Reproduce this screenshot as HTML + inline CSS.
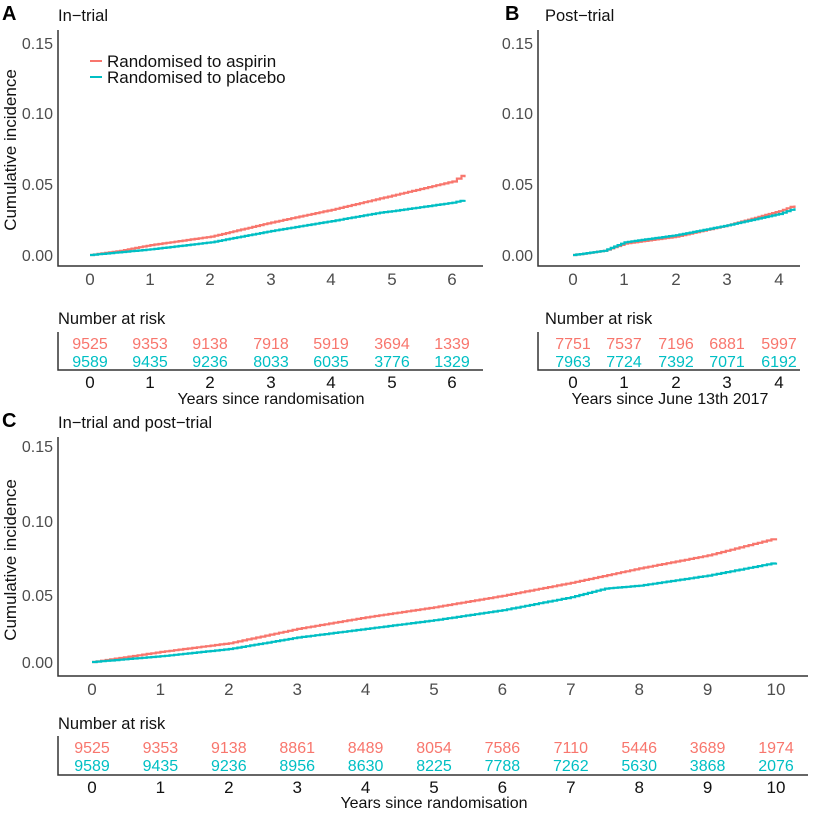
<!DOCTYPE html>
<html><head><meta charset="utf-8"><style>
body{margin:0;background:#fff;}
svg{display:block;font-family:"Liberation Sans",sans-serif;}
.tk{font-size:17px;fill:#4d4d4d;text-anchor:middle}
.yl{font-size:16px;fill:#4d4d4d;text-anchor:end}
.ax{stroke:#333;stroke-width:1.5;fill:none}
.r{fill:#F8766D;font-size:16px;text-anchor:middle}
.b{fill:#00BFC4;font-size:16px;text-anchor:middle}
.tt{font-size:16.5px;fill:#111}
.lg{font-size:17px;fill:#111}
.bl{font-size:16px;fill:#111;text-anchor:middle}
</style></head><body>
<svg id="s" width="813" height="819" viewBox="0 0 813 819">
<!-- Panel A -->
<text x="2" y="20" font-size="20" font-weight="bold">A</text>
<text x="58" y="21" class="tt">In−trial</text>
<path class="ax" d="M58,30V266H483"/>
<g class="yl"><text x="53" y="49">0.15</text><text x="53" y="119">0.10</text><text x="53" y="190">0.05</text><text x="53" y="261">0.00</text></g>
<text transform="translate(16,150) rotate(-90)" font-size="17" fill="#111" text-anchor="middle">Cumulative incidence</text>
<g class="tk"><text x="90" y="285">0</text><text x="150" y="285">1</text><text x="210" y="285">2</text><text x="271" y="285">3</text><text x="331" y="285">4</text><text x="392" y="285">5</text><text x="452" y="285">6</text></g>
<line x1="90" y1="61" x2="102" y2="61" stroke="#F8766D" stroke-width="2"/><line x1="90" y1="77" x2="102" y2="77" stroke="#00BFC4" stroke-width="2"/>
<text x="107" y="67" class="lg">Randomised to aspirin</text><text x="107" y="83" class="lg">Randomised to placebo</text>
<text x="58" y="324" class="tt">Number at risk</text>
<path class="ax" d="M58,332V370H483"/>
<g class="r"><text x="90" y="349">9525</text><text x="150" y="349">9353</text><text x="210" y="349">9138</text><text x="271" y="349">7918</text><text x="331" y="349">5919</text><text x="392" y="349">3694</text><text x="452" y="349">1339</text></g>
<g class="b"><text x="90" y="367">9589</text><text x="150" y="367">9435</text><text x="210" y="367">9236</text><text x="271" y="367">8033</text><text x="331" y="367">6035</text><text x="392" y="367">3776</text><text x="452" y="367">1329</text></g>
<g class="tk" style="fill:#111"><text x="90" y="388">0</text><text x="150" y="388">1</text><text x="210" y="388">2</text><text x="271" y="388">3</text><text x="331" y="388">4</text><text x="392" y="388">5</text><text x="452" y="388">6</text></g>
<text x="271" y="404" class="bl">Years since randomisation</text>
<!-- Panel B -->
<text x="505" y="20" font-size="20" font-weight="bold">B</text>
<text x="545" y="21" class="tt">Post−trial</text>
<path class="ax" d="M538,30V266H800"/>
<g class="yl"><text x="533" y="49">0.15</text><text x="533" y="119">0.10</text><text x="533" y="190">0.05</text><text x="533" y="261">0.00</text></g>
<g class="tk"><text x="573" y="285">0</text><text x="624" y="285">1</text><text x="676" y="285">2</text><text x="727" y="285">3</text><text x="779" y="285">4</text></g>
<text x="545" y="324" class="tt">Number at risk</text>
<path class="ax" d="M538,332V370H800"/>
<g class="r"><text x="573" y="349">7751</text><text x="624" y="349">7537</text><text x="676" y="349">7196</text><text x="727" y="349">6881</text><text x="779" y="349">5997</text></g>
<g class="b"><text x="573" y="367">7963</text><text x="624" y="367">7724</text><text x="676" y="367">7392</text><text x="727" y="367">7071</text><text x="779" y="367">6192</text></g>
<g class="tk" style="fill:#111"><text x="573" y="388">0</text><text x="624" y="388">1</text><text x="676" y="388">2</text><text x="727" y="388">3</text><text x="779" y="388">4</text></g>
<text x="670" y="404" class="bl">Years since June 13th 2017</text>
<!-- Panel C -->
<text x="2" y="427" font-size="20" font-weight="bold">C</text>
<text x="58" y="428" class="tt">In−trial and post−trial</text>
<path class="ax" d="M58,437V676H808"/>
<g class="yl"><text x="53" y="452">0.15</text><text x="53" y="527">0.10</text><text x="53" y="601">0.05</text><text x="53" y="668">0.00</text></g>
<text transform="translate(16,560) rotate(-90)" font-size="17" fill="#111" text-anchor="middle">Cumulative incidence</text>
<g class="tk" id="ct"></g>
<text x="58" y="729" class="tt">Number at risk</text>
<path class="ax" d="M58,736V775H808"/>
<g id="cr" class="r"></g><g id="cb" class="b"></g><g id="cb2" class="tk" style="fill:#111"></g>
<text x="434" y="808" class="bl">Years since randomisation</text>
<g id="curves" fill="none" stroke-width="2.2"></g>
</svg>
<script>
var ns="http://www.w3.org/2000/svg";
function el(p,t,a,txt){var e=document.createElementNS(ns,t);for(var k in a)e.setAttribute(k,a[k]);if(txt!=null)e.textContent=txt;document.getElementById(p).appendChild(e);}
var ar=[9525,9353,9138,8861,8489,8054,7586,7110,5446,3689,1974],pl=[9589,9435,9236,8956,8630,8225,7788,7262,5630,3868,2076];
for(var i=0;i<=10;i++){var x=92+i*68.4;el("ct","text",{x:x,y:695},i);el("cb2","text",{x:x,y:793},i);el("cr","text",{x:x,y:753},ar[i]);el("cb","text",{x:x,y:771},pl[i]);}
function curve(pts,fx,fy,col){var d="",py=null;pts.forEach(function(p,i){var n=Math.max(1,Math.round((i?p[0]-pts[i-1][0]:0)*15));if(i==0){d="M"+fx(p[0])+","+fy(p[1]);py=p;return;}for(var k=1;k<=n;k++){var t=py[0]+(p[0]-py[0])*k/n,v=py[1]+(p[1]-py[1])*k/n;d+="H"+fx(t).toFixed(1)+"V"+fy(v).toFixed(1);}py=p;});el("curves","path",{d:d,stroke:col});}
var ax=function(t){return 90+t*60.4},ay=function(v){return 255-v/0.05*70.7};
curve([[0,0],[0.5,0.003],[1,0.007],[2,0.013],[2.5,0.018],[3,0.023],[4,0.032],[5,0.042],[6,0.052],[6.15,0.056],[6.2,0.055]],ax,ay,"#F8766D");
curve([[0,0],[1,0.004],[2,0.009],[2.5,0.013],[3,0.017],[4,0.024],[4.8,0.030],[5,0.031],[6,0.037],[6.2,0.039]],ax,ay,"#00BFC4");
var bx=function(t){return 573+t*51.5};
curve([[0,0],[0.6,0.003],[1,0.008],[2,0.013],[3,0.021],[4,0.031],[4.3,0.035]],bx,ay,"#F8766D");
curve([[0,0],[0.6,0.003],[1,0.009],[2,0.014],[3,0.021],[4,0.029],[4.3,0.033]],bx,ay,"#00BFC4");
var cx=function(t){return 92+t*68.4},cy=function(v){return 662-v*1440};
curve([[0,0],[1,0.007],[2,0.013],[3,0.023],[4,0.031],[5,0.038],[6,0.046],[7,0.055],[8,0.065],[9,0.074],[10,0.086]],cx,cy,"#F8766D");
curve([[0,0],[1,0.004],[2,0.009],[2.5,0.013],[3,0.017],[4,0.023],[5,0.029],[6,0.036],[7,0.045],[7.5,0.051],[8,0.053],[9,0.060],[10,0.069]],cx,cy,"#00BFC4");
</script>
</body></html>
